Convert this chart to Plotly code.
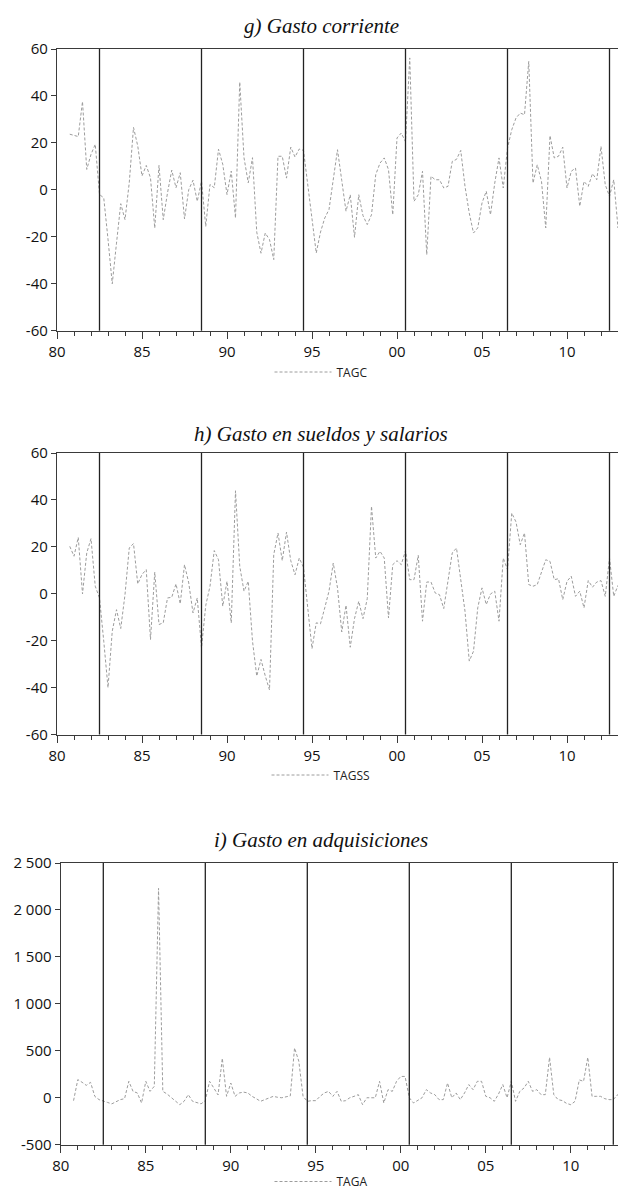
import plotly.graph_objects as go

# ---------------- data (quarterly annual growth rates, 1981Q1 onward) ----------------
first_obs_pos = 1980.75   # axis position of the first quarterly observation
step = 0.25               # one quarter

tagc = [23.7, 23.2, 22.7, 37.6, 8.7, 15.1, 19.4, -2, -3.4, -21,
        -40, -22.7, -5.9, -12.7, 3, 26.6, 18.7, 5.9, 10.4, 5.1,
        -16.3, 10.4, -12.7, -1.3, 8.4, 0.9, 7.3, -12.4, 0.1, 4.1,
        -4.9, 3.7, -15.6, 2.3, 0.9, 17.3, 10.9, -2, 8, -12,
        45.9, 13.7, 3, 13.7, -18, -27, -18.4, -21.2, -29.7, 14.3,
        14.3, 5.0, 18.2, 14.0, 17.4, 16.8, 2, -13, -26.9, -18,
        -12.0, -8.4, 4, 17.1, 4, -9.1, -2.1, -20.2, -2.1, -11.0,
        -14.8, -10.6, 6.5, 11.4, 13.6, 8.6, -10.6, 22.1, 24.2, 20.5,
        56.2, -4.9, -2.1, 7.9, -27.6, 5.8, 4.3, 4.3, 0.8, 1.5,
        12.1, 13.0, 16.8, 1.5, -9.9, -18.4, -16.2, -5.6, -0.6, -10.6,
        2.9, 13.6, 0.8, 17.8, 25.6, 30.6, 32.7, 32.0, 54.7, 2.9,
        10.7, 3.6, -16.2, 23.1, 13.6, 14.3, 18.2, 0.8, 7.9, 9.3,
        -7.0, 3.6, 1.5, 6.9, 4.3, 18.5, 2.2, -2.8, 4.3, -16.2,
        -1.1, -2.1, -7.0, 8]

tagss = [20.2, 16.0, 24.0, -0.1, 17.4, 23.5, 3.2, -1.8, -20.2, -40,
         -16.0, -6.8, -14.8, -0.4, 19.5, 21.4, 4.2, 8.2, 10.3, -19.5,
         9.2, -13.1, -12.4, -1.8, -1.5, 4.2, -4.3, 12.4, 4.6, -8.2,
         -1.8, -23.1, -5, 3.2, 18.4, 14.5, -5.3, 5.3, -12.4, 43.9,
         11.7, 1.1, 5.3, -20.2, -35.1, -28, -35, -41, 16.7, 25.9,
         14.1, 26.3, 14.1, 8.1, 15.2, 11.3, -6, -23.4, -12.4, -12.8,
         -6.0, 1.1, 13.1, 2.5, -16.3, -4.9, -22.8, -10.6, -3.2, -10.6,
         -2.1, 37.3, 15.2, 18.1, 15.2, -10.3, 12.4, 14.1, 12.4, 18.4,
         6.0, 6.0, 16.4, -11.7, 5.0, 5.0, 0.3, -0.4, -6.3, 5,
         17.4, 19.5, 6.7, -7.5, -28.7, -24.5, -6.0, 2.5, -4.6, -0.1,
         1.1, -11.7, 15.2, 10.3, 34.4, 30.6, 20.9, 25.9, 3.9, 3.2,
         3.9, 9.6, 14.5, 13.8, 6.0, 6.4, -2.5, 5.3, 7.5, -1.1,
         1.1, -6.0, 5.6, 2.8, 5.0, 5.6, -1.1, 15.2, -1.1, 3.6,
         3.2, -6.0, 10.3, 9]

taga = [-31, 193, 165, 132, 164, 15, -20, -38, -50, -65,
        -38, -20, -10, 175, 68, 51, -56, 175, 68, 122,
        2230, 68, 40, 0, -40, -74, -38, 33, -38, -50,
        -65, -31, 175, 104, 30, 420, 15, 157, 15, 51,
        60, 51, 15, -10, -38, -20, 0, 15, 5, 0,
        10, 20, 530, 390, 15, -38, -31, -31, 15, 51,
        68, 15, 68, -38, -31, 0, 15, 33, -74, 0,
        0, 0, 175, -56, 86, 68, 175, 227, 227, 0,
        -56, -31, 0, 86, 51, 33, -20, -20, 157, 0,
        51, -20, 51, 140, 86, 175, 175, 15, 0, -38,
        40, 140, 0, 175, -38, 68, 104, 175, 68, 86,
        33, 33, 430, 33, -20, -30, -60, -74, -38, 190,
        175, 430, 15, 15, 15, -10, -20, -20, 33, -38,
        0, 20, 30, 20]

breaks = [1982.5, 1988.5, 1994.5, 2000.5, 2006.5, 2012.5]

year_ticks = [1980, 1985, 1990, 1995, 2000, 2005, 2010]
year_labels = ["80", "85", "90", "95", "00", "05", "10"]
minor_years = [y for y in range(1980, 2015) if y % 5 != 0]

pct_ticks = [-60, -40, -20, 0, 20, 40, 60]
pct_labels = ["-60", "-40", "-20", "0", "20", "40", "60"]
taga_ticks = [-500, 0, 500, 1000, 1500, 2000, 2500]
taga_labels = ["-500", "0", "500", "1 000", "1 500", "2 000", "2 500"]

titles = ["g) Gasto corriente", "h) Gasto en sueldos y salarios", "i) Gasto en adquisiciones"]
names = ["TAGC", "TAGSS", "TAGA"]
series = [tagc, tagss, taga]
y_ranges = [[-60, 60], [-60, 60], [-500, 2500]]
y_tickvals = [pct_ticks, pct_ticks, taga_ticks]
y_ticktext = [pct_labels, pct_labels, taga_labels]

# ---------------- layout geometry (pixels) ----------------
W, H = 626, 1188
px_per_year = 17.0
panels = [
    dict(left=49.0, top=41.0, bottom=322.7, title_y=18,
         legend=dict(y=1 - 364 / H, yanchor="middle")),
    dict(left=49.0, top=445.0, bottom=726.5, title_y=426,
         legend=dict(y=1 - 767 / H, yanchor="middle")),
    dict(left=52.8, top=855.0, bottom=1136.7, title_y=832,
         legend=dict(y=0.0, yanchor="bottom")),
]

AX = "#3a3a3a"
SANS = "Open Sans, Noto Sans, DejaVu Sans, sans-serif"
SERIF = "Liberation Serif, DejaVu Serif, serif"

fig = go.Figure()
layout = dict(
    width=W, height=H,
    margin=dict(l=0, r=0, t=0, b=0, pad=0, autoexpand=False),
    paper_bgcolor="white", plot_bgcolor="white",
    showlegend=True,
    annotations=[], shapes=[],
)

for k in range(3):
    p = panels[k]
    sfx = "" if k == 0 else str(k + 1)
    xs = [first_obs_pos + step * i for i in range(len(series[k]))]
    leg = "legend" if k == 0 else f"legend{k + 1}"
    fig.add_trace(go.Scatter(
        x=xs, y=series[k], mode="lines", name=names[k],
        line=dict(color="#9c9c9c", width=1, dash="3px,2px"),
        xaxis="x" + sfx, yaxis="y" + sfx, legend=leg,
        hoverinfo="x+y",
    ))
    x_end = 1980 + (W - p["left"]) / px_per_year
    layout["xaxis" + sfx] = dict(
        domain=[p["left"] / W, 1.0], anchor="y" + sfx,
        range=[1980, x_end], automargin=False,
        tickmode="array", tickvals=year_ticks, ticktext=year_labels,
        ticks="outside", ticklen=7, tickwidth=1.2, tickcolor=AX,
        showline=True, linecolor=AX, linewidth=1.4, mirror=True,
        showgrid=False, zeroline=False,
        tickfont=dict(family=SANS, size=15, color="#111"),
        minor=dict(tickmode="array", tickvals=minor_years, ticks="outside",
                   ticklen=4, tickwidth=1, tickcolor=AX, showgrid=False),
    )
    layout["yaxis" + sfx] = dict(
        domain=[1 - p["bottom"] / H, 1 - p["top"] / H], anchor="x" + sfx,
        range=y_ranges[k], automargin=False,
        tickmode="array", tickvals=y_tickvals[k], ticktext=y_ticktext[k],
        ticks="outside", ticklen=5, tickwidth=1.2, tickcolor=AX,
        showline=True, linecolor=AX, linewidth=1.4,
        showgrid=False, zeroline=False,
        tickfont=dict(family=SANS, size=15, color="#111"),
    )
    layout[leg] = dict(
        x=0.5, xanchor="center", orientation="h",
        bgcolor="rgba(0,0,0,0)", itemwidth=57,
        font=dict(family=SANS, size=12, color="#222"),
        **p["legend"],
    )
    layout["annotations"].append(dict(
        text="<i>" + titles[k] + "</i>", xref="paper", yref="paper",
        x=0.5, y=1 - p["title_y"] / H, xanchor="center", yanchor="middle",
        showarrow=False, font=dict(family=SERIF, size=21, color="#111"),
    ))
    for b in breaks:
        layout["shapes"].append(dict(
            type="line", xref="x" + sfx, yref=f"y{sfx} domain",
            x0=b, x1=b, y0=0, y1=1, layer="above",
            line=dict(color="#222", width=1.3),
        ))

fig.update_layout(**layout)
fig.write_html("out.html")
